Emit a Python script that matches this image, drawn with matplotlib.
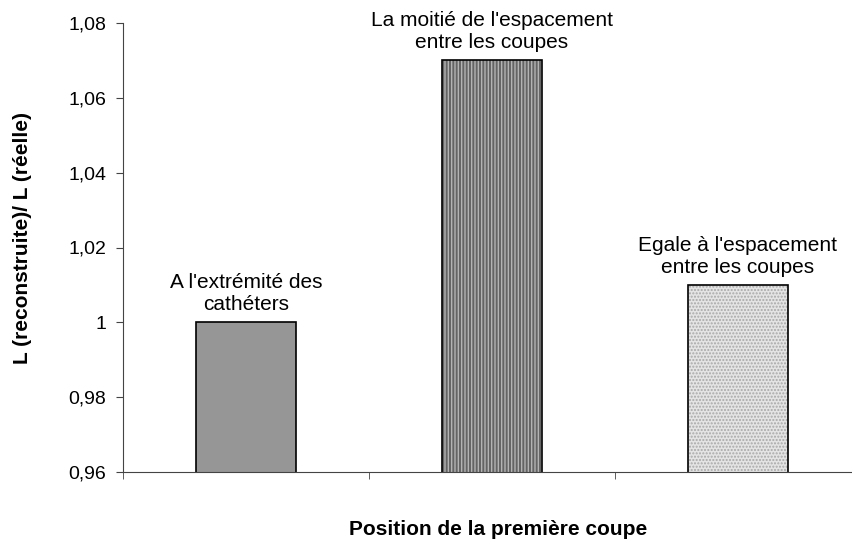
import matplotlib.pyplot as plt
from matplotlib.ticker import FixedLocator, FuncFormatter

plt.rcParams['font.family'] = ['Liberation Sans', 'DejaVu Sans']

categories = ["A l'extrémité des\ncathéters",
              "La moitié de l'espacement\nentre les coupes",
              "Egale à l'espacement\nentre les coupes"]
values = [1.00, 1.07, 1.01]
y_ticks = [0.96, 0.98, 1.00, 1.02, 1.04, 1.06, 1.08]

fig = plt.figure(figsize=(8.52, 5.40), dpi=100)
ax = fig.add_axes([123 / 852, 1 - 472 / 540, 738 / 852, 449 / 540])

x = list(range(len(values)))
faces = ['#969696', '#646464', '#e4e4e4']
hatches = [None, '|||||', '.....']
hcols = ['#969696', '#b4b4b4', '#a8a8a8']
for xi, v, fc, h, hc in zip(x, values, faces, hatches, hcols):
    ax.bar(xi, v, width=0.405, color=fc, hatch=h, edgecolor=hc, linewidth=0)
    ax.bar(xi, v, width=0.405, fill=False, edgecolor='black', linewidth=1.2)
    ax.annotate(categories[xi], (xi, v), xytext=(0, 6), textcoords='offset points',
                ha='center', va='bottom', fontsize=15, linespacing=1.2)

ax.set_xlim(-0.5, 2.5)
ax.set_ylim(0.96, 1.08)
ax.set_yticks(y_ticks)
ax.yaxis.set_major_formatter(FuncFormatter(lambda v, p: '{:g}'.format(round(v, 2)).replace('.', ',')))
ax.set_xticks([])
ax.xaxis.set_minor_locator(FixedLocator([-0.5, 0.5, 1.5, 2.5]))
ax.tick_params(axis='x', which='minor', length=5, direction='out', color='#444444')
ax.tick_params(axis='y', length=5, direction='out', color='#444444', labelsize=14, pad=7)

for s in ['top', 'right']:
    ax.spines[s].set_visible(False)
for s in ['left', 'bottom']:
    ax.spines[s].set_color('#444444')

fig.text(23 / 852, 1 - 238 / 540, 'L (reconstruite)/ L (réelle)', rotation=90,
         ha='center', va='center', fontsize=15, fontweight='bold')
fig.text(498 / 852, 1 - 535 / 540, 'Position de la première coupe', ha='center', va='baseline',
         fontsize=15, fontweight='bold')

fig.savefig('out.png', dpi=100)
